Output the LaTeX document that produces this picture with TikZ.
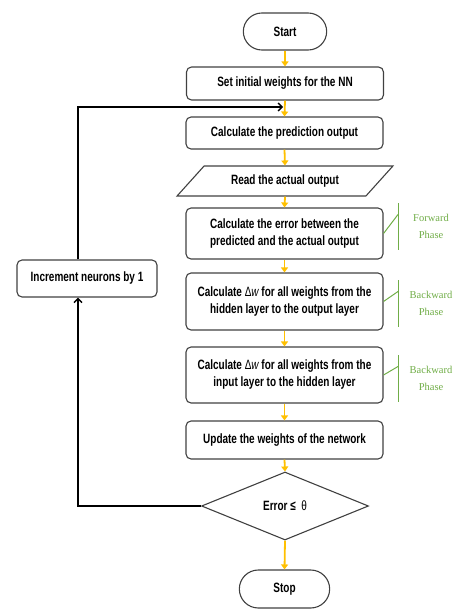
\documentclass[tikz,border=0pt]{standalone}
\usepackage{fontspec}
\setmainfont{Liberation Sans}[FakeStretch=0.74]
\newfontfamily\phasefont{Liberation Serif}
\usetikzlibrary{shapes.geometric,shapes.misc,arrows.meta}
\definecolor{flowyellow}{HTML}{FFC000}
\definecolor{phasegreen}{HTML}{70AD47}
\definecolor{boxgrey}{HTML}{404040}
\newcommand{\boxfont}{\bfseries\fontsize{13.5}{17}\selectfont}

\begin{document}
\begin{tikzpicture}[x=1pt,y=-1pt,
  box/.style={draw=boxgrey,line width=1.1pt,rounded corners=5pt,minimum width=197pt,align=center,font=\boxfont},
  term/.style={draw=boxgrey,line width=1.1pt,rounded rectangle,font=\boxfont},
  io/.style={draw=boxgrey,line width=1.1pt,trapezium,trapezium left angle=35,trapezium right angle=145,
    trapezium stretches=true,minimum width=216pt,minimum height=30pt,inner sep=0pt,font=\boxfont},
  decision/.style={draw=boxgrey,line width=1.1pt,diamond,aspect=2.46,minimum width=167pt,minimum height=68pt,
    inner sep=0pt,font=\boxfont},
  flow/.style={draw=flowyellow,line width=1.8pt,-{Triangle[length=5pt,width=7pt]}},
  back/.style={draw=black,line width=1.4pt,-{Straight Barb[length=4pt,width=8pt]}},
  phase/.style={text=phasegreen,align=center,font=\phasefont\fontsize{10.5}{17}\selectfont},
  phaseline/.style={draw=phasegreen,line width=1pt}]
\useasboundingbox (0,0) rectangle (454,610);

\node[term,minimum width=90pt,minimum height=37pt] (start) at (285,31.5) {Start};
\node[box,minimum height=33pt] (init) at (285,83.5) {Set initial weights for the NN};
\node[box,minimum height=32pt] (pred) at (284.5,133) {Calculate the prediction output};
\node[io] (read) at (285,181) {Read the actual output};
\node[box,minimum height=51pt] (err) at (284.5,233.5) {Calculate the error between the\\predicted and the actual output};
\node[box,minimum height=57pt] (back1) at (284.5,301.5) {Calculate {\mdseries Δ\itshape w} for all weights from the\\hidden layer to the output layer};
\node[box,minimum height=56pt] (back2) at (284.5,375) {Calculate {\mdseries Δ\itshape w} for all weights from the\\input layer to the hidden layer};
\node[box,minimum height=38pt] (upd) at (284.5,440) {Update the weights of the network};
\node[decision] (dec) at (285,506) {Error ≤\ \ {\mdseries θ}};
\node[term,minimum width=97pt,minimum height=38pt] (stop) at (284.5,589) {Stop};
\node[box,minimum width=140pt,minimum height=37pt] (inc) at (87,278.5) {Increment neurons by 1};

% main flow
\foreach \a/\b in {start/init,init/pred,pred/read,read/err,err/back1,back1/back2,back2/upd,upd/dec,dec/stop}
  \draw[flow] (\a.south) -- (\b.north);

% loop back
\coordinate (corner) at (78,506);
\coordinate (join) at (283,107);
\draw[back] (dec.west) -- (corner) -- (corner |- inc.south);
\draw[back] (corner |- inc.north) -- (corner |- join) -- (join);

% phases
\foreach \n/\t/\ya in {err/Forward/226.5,back1/Backward/303.5,back2/Backward/378.5} {
  \node[phase] (\n-tag) at (431,\ya) {\t\\Phase};
  \draw[phaseline] (398,\ya-23.5) -- (398,\ya+23.5);
  \draw[phaseline] (\n.east) -- (398,\ya-12);
}
\end{tikzpicture}
\end{document}
